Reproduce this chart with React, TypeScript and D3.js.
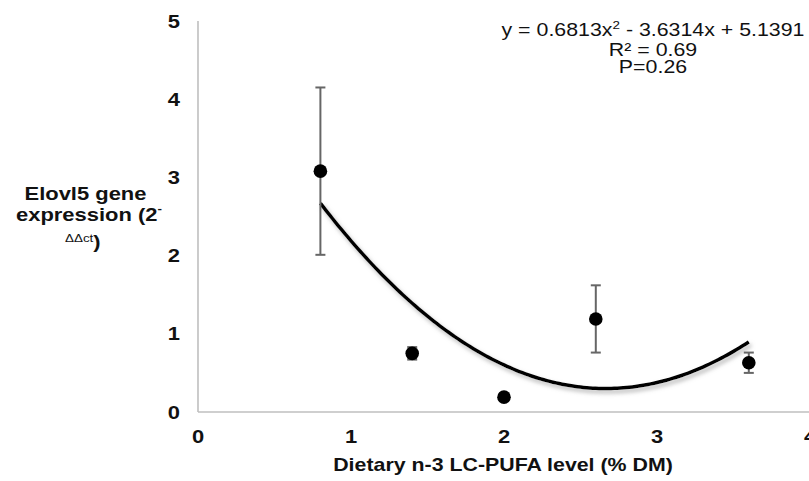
import React from "react";
import * as d3 from "d3";

const dietLevels = [0.8, 1.4, 2.0, 2.6, 3.6];
const expression = [3.08, 0.75, 0.19, 1.19, 0.63];
const stdErr = [1.07, 0.08, 0.02, 0.43, 0.13];
const xTicks = [0, 1, 2, 3, 4];
const yTicks = [0, 1, 2, 3, 4, 5];
const coefA = 0.6813;
const coefB = -3.6314;
const coefC = 5.1391;
const fitRange = [0.8, 3.6];
const xLabel = "Dietary n-3 LC-PUFA level (% DM)";
const eqLines = ["R\u00B2 = 0.69", "P=0.26"];

const W = 809;
const H = 481;
const SX = 1.22;
const FONT = "'Liberation Sans', Arial, sans-serif";

export default function App() {
  const x = d3.scaleLinear().domain([0, 4]).range([198, 810]);
  const y = d3.scaleLinear().domain([0, 5]).range([412, 21]);

  const fitX = d3.range(fitRange[0], fitRange[1] + 1e-9, 0.02);
  const fitPts: [number, number][] = fitX.map((v) => [v, coefA * v * v + coefB * v + coefC]);
  const line = d3
    .line<[number, number]>()
    .x((d) => x(d[0]))
    .y((d) => y(d[1]))
    .curve(d3.curveBasis);

  const st = (tx: number, ty: number) => `translate(${tx},${ty}) scale(${SX},1)`;

  return (
    <svg
      width={W}
      height={H}
      style={{ position: "absolute", left: 0, top: 0, background: "#fff" }}
      fontFamily={FONT}
    >
      <defs>
        <filter id="shadow" x="-10%" y="-10%" width="130%" height="140%">
          <feDropShadow dx="2" dy="3" stdDeviation="2" floodColor="#999" floodOpacity="0.7" />
        </filter>
      </defs>
      <rect x={0} y={0} width={W} height={H} fill="#fff" />

      {/* axes */}
      <line x1={x(0)} x2={x(0)} y1={y(5)} y2={y(0)} stroke="#bfbfbf" strokeWidth={1.6} />
      <line x1={x(0)} x2={W} y1={y(0)} y2={y(0)} stroke="#bfbfbf" strokeWidth={1.6} />

      {/* tick labels */}
      {xTicks.map((t) => (
        <text key={"x" + t} transform={st(x(t), 443)} textAnchor="middle" fontSize={18} fontWeight="bold" fill="#111">
          {t}
        </text>
      ))}
      {yTicks.map((t) => (
        <text key={"y" + t} transform={st(180, y(t) + 6.5)} textAnchor="end" fontSize={18} fontWeight="bold" fill="#111">
          {t}
        </text>
      ))}

      {/* fitted curve */}
      <path d={line(fitPts) || ""} fill="none" stroke="#000" strokeWidth={3.5} filter="url(#shadow)" />

      {/* error bars */}
      {dietLevels.map((d, i) => {
        const cx = x(d);
        const top = y(expression[i] + stdErr[i]);
        const bot = y(expression[i] - stdErr[i]);
        return (
          <g key={"e" + i} stroke="#666" strokeWidth={2}>
            <line x1={cx} x2={cx} y1={top} y2={bot} />
            <line x1={cx - 5} x2={cx + 5} y1={top} y2={top} />
            <line x1={cx - 5} x2={cx + 5} y1={bot} y2={bot} />
          </g>
        );
      })}

      {/* points */}
      {dietLevels.map((d, i) => (
        <circle key={"p" + i} cx={x(d)} cy={y(expression[i])} r={6.8} fill="#000" />
      ))}

      {/* equation */}
      <text transform={st(653, 36)} textAnchor="middle" fontSize={17.5} fill="#111">
        <tspan>y = 0.6813x</tspan>
        <tspan fontSize={11} dy={-7}>2</tspan>
        <tspan dy={7}> - 3.6314x + 5.1391</tspan>
      </text>
      {eqLines.map((s, i) => (
        <text key={"eq" + i} transform={st(653, 55.5 + i * 17.5)} textAnchor="middle" fontSize={17.5} fill="#111">
          {s}
        </text>
      ))}

      {/* y label */}
      <text transform={st(85.5, 200)} textAnchor="middle" fontSize={18} fontWeight="bold" fill="#111">
        Elovl5 gene
      </text>
      <text transform={st(16, 221)} textAnchor="start" fontSize={18} fontWeight="bold" fill="#111">
        <tspan>expression (2</tspan>
        <tspan fontSize={11} dy={-9}>-</tspan>
      </text>
      <text transform={st(65, 248)} textAnchor="start" fontSize={18} fontWeight="bold" fill="#111">
        <tspan fontSize={11} fontWeight="normal" dy={-6}>{"\u0394\u0394ct"}</tspan>
        <tspan dy={6}>)</tspan>
      </text>

      {/* x label */}
      <text transform={st(503, 471)} textAnchor="middle" fontSize={17.5} fontWeight="bold" fill="#111">
        {xLabel}
      </text>
    </svg>
  );
}
